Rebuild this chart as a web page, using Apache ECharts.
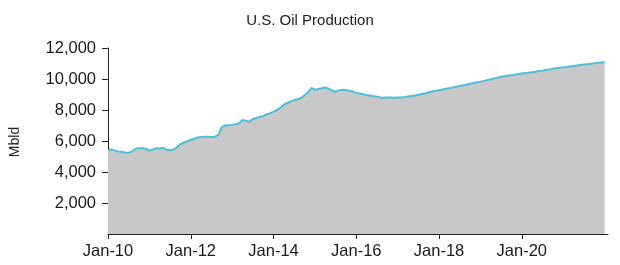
<!DOCTYPE html>
<html>
<head>
<meta charset="utf-8">
<script src="https://cdn.jsdelivr.net/npm/echarts@6/dist/echarts.min.js"></script>
<style>
html,body{margin:0;padding:0;background:#fff;}
#chart{width:620px;height:265px;}
</style>
</head>
<body>
<div id="chart"></div>
<script>
// Monthly U.S. oil production, Mb/d, Jan-2010 .. Jan-2022
var prod2010 = [5400, 5450, 5380, 5330, 5300, 5260, 5240, 5330, 5500, 5540, 5530, 5500];
var prod2011 = [5380, 5450, 5530, 5520, 5560, 5450, 5400, 5450, 5600, 5800, 5900, 5980];
var prod2012 = [6080, 6150, 6230, 6260, 6280, 6280, 6260, 6280, 6400, 6900, 7000, 7020];
var prod2013 = [7040, 7080, 7140, 7350, 7300, 7240, 7420, 7480, 7560, 7600, 7720, 7780];
var prod2014 = [7900, 8000, 8150, 8350, 8450, 8560, 8640, 8700, 8780, 8950, 9150, 9420];
var prod2015 = [9300, 9350, 9400, 9450, 9380, 9250, 9180, 9280, 9300, 9290, 9250, 9200];
var prod2016 = [9100, 9060, 9020, 8970, 8930, 8890, 8850, 8800, 8790, 8800, 8800, 8790];
var prod2017 = [8800, 8810, 8840, 8880, 8900, 8940, 8990, 9030, 9080, 9140, 9190, 9240];
var prod2018 = [9280, 9320, 9370, 9410, 9450, 9500, 9550, 9600, 9640, 9690, 9740, 9790];
var prod2019 = [9830, 9880, 9940, 9990, 10040, 10090, 10140, 10180, 10220, 10250, 10280, 10320];
var prod2020 = [10350, 10380, 10410, 10440, 10470, 10510, 10540, 10580, 10620, 10660, 10700, 10730];
var prod2021 = [10760, 10780, 10810, 10840, 10870, 10900, 10930, 10960, 10990, 11010, 11040, 11070];
var prod2022 = [11100];

var monthNames = ['Jan','Feb','Mar','Apr','May','Jun','Jul','Aug','Sep','Oct','Nov','Dec'];
var years = ['10','11','12','13','14','15','16','17','18','19','20','21','22'];
var tickLabels = ['Jan-10','Jan-12','Jan-14','Jan-16','Jan-18','Jan-20'];

var categories = [];
years.forEach(function(y){ monthNames.forEach(function(m){ categories.push(m + '-' + y); }); });
categories = categories.slice(0, 146); // Jan-10 .. Feb-22 (last one empty, axis overhang)

var values = [].concat(prod2010, prod2011, prod2012, prod2013, prod2014, prod2015,
  prod2016, prod2017, prod2018, prod2019, prod2020, prod2021, prod2022);

var FONT = "'Liberation Sans', Arial, sans-serif";
var showTick = function(i){ return tickLabels.indexOf(categories[i]) >= 0; };

var chart = echarts.init(document.getElementById('chart'));
chart.setOption({
  animation: false,
  title: {
    text: 'U.S. Oil Production',
    left: 'center', top: 8,
    textStyle: { fontSize: 15, fontWeight: 'normal', color: '#222', fontFamily: FONT }
  },
  grid: { left: 108, right: 12, top: 48, bottom: 31, containLabel: false },
  graphic: [{
    type: 'text', x: 15, y: 142, rotation: Math.PI / 2,
    style: { text: 'Mbld', fontSize: 14, fontFamily: FONT, fill: '#222', align: 'center', verticalAlign: 'middle' }
  }],
  xAxis: {
    type: 'category',
    data: categories,
    boundaryGap: false,
    axisLine: { lineStyle: { color: '#222', width: 1 } },
    axisTick: { interval: function(i){ return showTick(i); }, length: 5, lineStyle: { color: '#222' } },
    axisLabel: { interval: function(i){ return showTick(i); }, margin: 9, fontSize: 16.5, color: '#1a1a1a', fontFamily: FONT },
    splitLine: { show: false }
  },
  yAxis: {
    type: 'value',
    min: 0, max: 12000, interval: 2000,
    axisLine: { show: true, lineStyle: { color: '#222', width: 1 } },
    axisTick: { show: true, length: 6, lineStyle: { color: '#222' } },
    axisLabel: {
      showMinLabel: false, margin: 12, fontSize: 16.5, color: '#1a1a1a', fontFamily: FONT,
      formatter: function(v){ return v.toLocaleString('en-US'); }
    },
    splitLine: { show: false }
  },
  series: [{
    type: 'line',
    data: values,
    symbol: 'none',
    lineStyle: { color: '#4cc0d8', width: 2 },
    areaStyle: { color: '#c8c8c8', opacity: 1 },
    z: 2
  }]
});
</script>
</body>
</html>
